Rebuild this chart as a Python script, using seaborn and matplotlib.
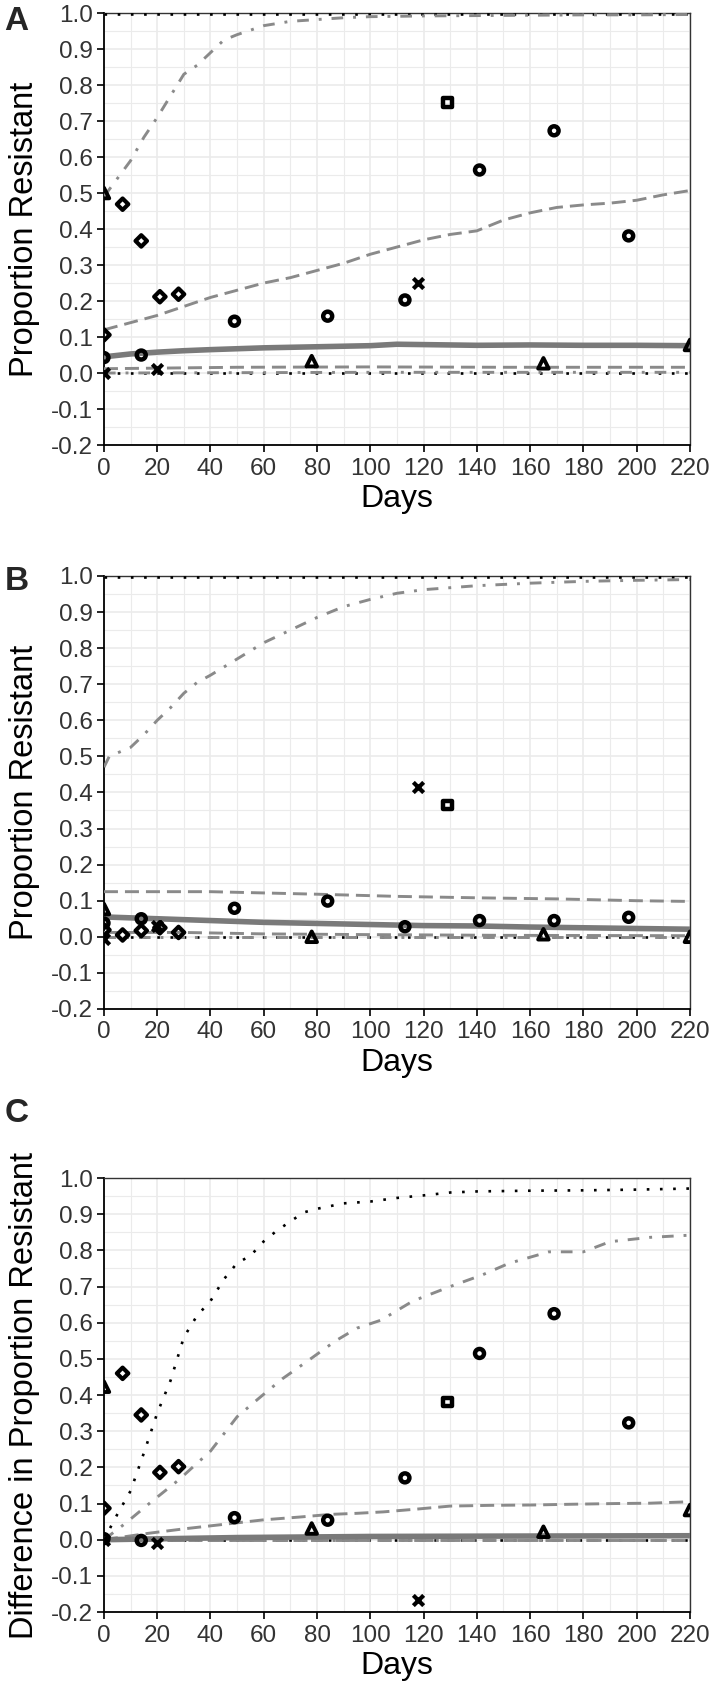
import numpy as np
import pandas as pd
import matplotlib
matplotlib.use("Agg")
import matplotlib.pyplot as plt
from matplotlib.ticker import MultipleLocator
import seaborn as sns

sns.set_theme(style="whitegrid")
plt.rcParams['font.family'] = ['Liberation Sans', 'DejaVu Sans']
plt.rcParams['axes.unicode_minus'] = False

#%% data

# observed points (day, value, marker shape)
obs_day = [0, 7, 14, 21, 28, 0, 14, 49, 84, 113, 141, 169, 197, 0, 78, 165, 220, 129, 0, 20, 118]
obs_shape = ['diamond'] * 5 + ['circle'] * 8 + ['triangle'] * 4 + ['square'] + ['cross'] * 3
obs_a = [0.106, 0.469, 0.367, 0.212, 0.219,
         0.043, 0.050, 0.144, 0.158, 0.203, 0.564, 0.673, 0.381,
         0.500, 0.033, 0.027, 0.078,
         0.752,
         0.000, 0.011, 0.249]
obs_b = [0.019, 0.005, 0.017, 0.025, 0.012,
         0.038, 0.050, 0.079, 0.099, 0.028, 0.045, 0.045, 0.054,
         0.077, 0.000, 0.007, 0.000,
         0.365,
         -0.005, 0.030, 0.416]
obs_c = [0.087, 0.460, 0.345, 0.186, 0.202,
         0.003, -0.002, 0.061, 0.054, 0.171, 0.515, 0.625, 0.323,
         0.423, 0.031, 0.022, 0.082,
         0.381,
         0.000, -0.010, -0.167]

# model curves, panel A
a_hi_dd_day = [0, 5, 10, 15, 20, 25, 30, 35, 40, 45, 50, 60, 70, 80, 90, 100, 120, 140, 160, 180, 200, 220]
a_hi_dd = [0.49, 0.54, 0.59, 0.655, 0.71, 0.77, 0.83, 0.855, 0.89, 0.925, 0.94, 0.965, 0.977, 0.982,
           0.987, 0.99, 0.992, 0.993, 0.994, 0.995, 0.995, 0.996]
a_hi_da_day = [0, 10, 20, 30, 40, 50, 60, 70, 80, 90, 100, 110, 120, 130, 140, 150, 160, 170, 180, 190, 200, 210, 220]
a_hi_da = [0.12, 0.14, 0.16, 0.185, 0.21, 0.23, 0.25, 0.265, 0.285, 0.305, 0.33, 0.35, 0.37, 0.385,
           0.395, 0.425, 0.445, 0.46, 0.467, 0.472, 0.48, 0.495, 0.507]
a_mid_day = [0, 10, 20, 30, 40, 60, 80, 100, 110, 120, 140, 160, 180, 200, 220]
a_mid = [0.045, 0.053, 0.058, 0.062, 0.065, 0.07, 0.073, 0.076, 0.08, 0.079, 0.077, 0.078, 0.077, 0.077, 0.076]
a_lo_day = [0, 50, 100, 150, 220]
a_lo_da = [0.012, 0.016, 0.017, 0.016, 0.016]
a_lo_dd = [0.0, 0.001, 0.002, 0.002, 0.002]
a_dot_hi = [0.998, 0.998, 0.998, 0.998, 0.998]
a_dot_lo = [0.0, 0.0, 0.0, 0.0, 0.0]

# model curves, panel B
b_hi_dd_day = [0, 2, 10, 15, 20, 25, 30, 35, 40, 50, 60, 70, 80, 90, 100, 110, 120, 140, 160, 180, 200, 220]
b_hi_dd = [0.47, 0.50, 0.525, 0.56, 0.60, 0.635, 0.675, 0.705, 0.725, 0.77, 0.815, 0.85, 0.885,
           0.915, 0.935, 0.952, 0.962, 0.973, 0.98, 0.985, 0.988, 0.99]
b_hi_da_day = [0, 40, 80, 110, 140, 170, 200, 220]
b_hi_da = [0.125, 0.125, 0.118, 0.112, 0.108, 0.105, 0.10, 0.098]
b_mid_day = [0, 20, 40, 60, 80, 100, 120, 140, 160, 180, 200, 220]
b_mid = [0.055, 0.05, 0.045, 0.04, 0.037, 0.034, 0.031, 0.03, 0.027, 0.025, 0.023, 0.021]
b_lo_day = [0, 30, 60, 100, 150, 220]
b_lo_da = [0.012, 0.012, 0.008, 0.006, 0.004, 0.003]
b_lo_dd = [0.0, 0.0, 0.0, 0.0, 0.0, 0.0]
b_dot_hi = [0.998] * 6
b_dot_lo = [0.0] * 6

# model curves, panel C (difference)
c_dot_day = [0, 5, 10, 15, 20, 25, 30, 35, 40, 45, 50, 55, 60, 65, 70, 75, 80, 90, 100, 110, 120, 130,
             140, 160, 180, 200, 220]
c_dot_hi = [0.0, 0.07, 0.135, 0.24, 0.35, 0.44, 0.56, 0.62, 0.66, 0.72, 0.765, 0.785, 0.825, 0.855,
            0.88, 0.905, 0.915, 0.93, 0.935, 0.945, 0.952, 0.96, 0.963, 0.965, 0.966, 0.968, 0.971]
c_hi_dd_day = [0, 8, 17, 28, 40, 50, 58, 67, 77, 87, 95, 104, 116, 130, 142, 152, 167, 180, 190, 205, 220]
c_hi_dd = [0.0, 0.045, 0.10, 0.165, 0.245, 0.34, 0.39, 0.445, 0.497, 0.55, 0.585, 0.607, 0.66, 0.70,
           0.732, 0.764, 0.796, 0.796, 0.824, 0.836, 0.842]
c_hi_da_day = [0, 17, 30, 48, 60, 74, 85, 95, 105, 118, 130, 145, 161, 175, 192, 205, 220]
c_hi_da = [0.0, 0.018, 0.03, 0.045, 0.055, 0.063, 0.07, 0.073, 0.077, 0.085, 0.093, 0.095, 0.096,
           0.098, 0.10, 0.101, 0.105]
c_mid_day = [0, 50, 100, 150, 220]
c_mid = [0.0, 0.006, 0.009, 0.010, 0.011]
c_lo_da = [0.0, 0.0, 0.0, 0.0, 0.0]
c_lo_dd = [0.0, 0.0, 0.0, 0.0, 0.0]
c_dot_lo = [-0.002, -0.002, -0.002, -0.002, -0.002]

y_ticks = [-0.2, -0.1, 0.0, 0.1, 0.2, 0.3, 0.4, 0.5, 0.6, 0.7, 0.8, 0.9, 1.0]
y_labels = ['-0.2', '-0.1', '0.0', '0.1', '0.2', '0.3', '0.4', '0.5', '0.6', '0.7', '0.8', '0.9', '1.0']
x_ticks = list(range(0, 221, 20))

#%% styles
GRAY = '#8a8a8a'
line_styles = {
    'solid':   dict(color='#7a7a7a', linewidth=4.0, linestyle='-'),
    'dashed':  dict(color=GRAY, linewidth=2.1, linestyle=(0, (4.8, 2.4))),
    'dotdash': dict(color=GRAY, linewidth=2.1, linestyle=(0, (4, 3.4, 1, 3.4))),
    'dotted':  dict(color='black', linewidth=1.9, linestyle=(0, (1, 4))),
}
markers = {'circle': 'o', 'diamond': 'D', 'triangle': '^', 'square': 's', 'cross': 'x'}
msize = {'circle': 42, 'diamond': 34, 'triangle': 58, 'square': 38, 'cross': 55}
mwidth = {'circle': 3.2, 'diamond': 3.0, 'triangle': 2.8, 'square': 3.2, 'cross': 3.0}


def draw_panel(ax, curves, vals, ylabel):
    for days, ys, sty in curves:
        sns.lineplot(x=days, y=ys, ax=ax, estimator=None, zorder=3, **line_styles[sty])
    df = pd.DataFrame({'day': obs_day, 'val': vals, 'shape': obs_shape})
    for shp, sub in df.groupby('shape'):
        if shp == 'cross':
            sns.scatterplot(data=sub, x='day', y='val', ax=ax, marker='x', s=msize[shp],
                            color='black', linewidth=mwidth[shp], zorder=5)
        else:
            sns.scatterplot(data=sub, x='day', y='val', ax=ax, marker=markers[shp], s=msize[shp],
                            color='black', facecolor='none', edgecolor='black',
                            linewidth=mwidth[shp], zorder=5)
    ax.set_xlim(0, 220)
    ax.set_ylim(-0.2, 1.0)
    ax.set_xticks(x_ticks)
    ax.set_xticklabels([str(t) for t in x_ticks])
    ax.set_yticks(y_ticks)
    ax.set_yticklabels(y_labels)
    ax.xaxis.set_minor_locator(MultipleLocator(10))
    ax.yaxis.set_minor_locator(MultipleLocator(0.05))
    ax.grid(which='major', color='#EBEBEB', linewidth=1.2)
    ax.grid(which='minor', color='#EBEBEB', linewidth=0.8)
    ax.set_axisbelow(True)
    ax.tick_params(which='major', bottom=True, left=True, length=5, width=1.2, color='black',
                   labelsize=17.5, labelcolor='#333333')
    ax.tick_params(axis='y', pad=3)
    ax.tick_params(axis='x', pad=4)
    ax.tick_params(which='minor', length=0)
    for side in ['left', 'bottom']:
        ax.spines[side].set_color('black')
        ax.spines[side].set_linewidth(1.3)
    for side in ['top', 'right']:
        ax.spines[side].set_color('#333333')
        ax.spines[side].set_linewidth(1.0)
    ax.set_xlabel('Days', fontsize=23, color='black', labelpad=3)
    ax.set_ylabel(ylabel, fontsize=23.5, color='black', labelpad=8)


fig = plt.figure(figsize=(7.12, 16.96), dpi=100)
ax_a = fig.add_axes([0.146, 0.7376, 0.823, 0.2547])
ax_b = fig.add_axes([0.146, 0.4051, 0.823, 0.2553])
ax_c = fig.add_axes([0.146, 0.0495, 0.823, 0.2559])

draw_panel(ax_a, [(a_lo_day, a_dot_hi, 'dotted'), (a_lo_day, a_dot_lo, 'dotted'),
                  (a_lo_day, a_lo_dd, 'dotdash'), (a_hi_dd_day, a_hi_dd, 'dotdash'),
                  (a_lo_day, a_lo_da, 'dashed'), (a_hi_da_day, a_hi_da, 'dashed'),
                  (a_mid_day, a_mid, 'solid')],
           obs_a, 'Proportion Resistant')
draw_panel(ax_b, [(b_lo_day, b_dot_hi, 'dotted'), (b_lo_day, b_dot_lo, 'dotted'),
                  (b_lo_day, b_lo_dd, 'dotdash'), (b_hi_dd_day, b_hi_dd, 'dotdash'),
                  (b_lo_day, b_lo_da, 'dashed'), (b_hi_da_day, b_hi_da, 'dashed'),
                  (b_mid_day, b_mid, 'solid')],
           obs_b, 'Proportion Resistant')
draw_panel(ax_c, [(c_mid_day, c_dot_lo, 'dotted'), (c_dot_day, c_dot_hi, 'dotted'),
                  (c_mid_day, c_lo_dd, 'dotdash'), (c_hi_dd_day, c_hi_dd, 'dotdash'),
                  (c_mid_day, c_lo_da, 'dashed'), (c_hi_da_day, c_hi_da, 'dashed'),
                  (c_mid_day, c_mid, 'solid')],
           obs_c, 'Difference in Proportion Resistant')

for letter, ypix in [('A', 6), ('B', 566), ('C', 1098)]:
    fig.text(0.006, 1 - ypix / 1696, letter, fontsize=24, fontweight='bold', va='top', ha='left')

fig.savefig('out.png', dpi=100)
